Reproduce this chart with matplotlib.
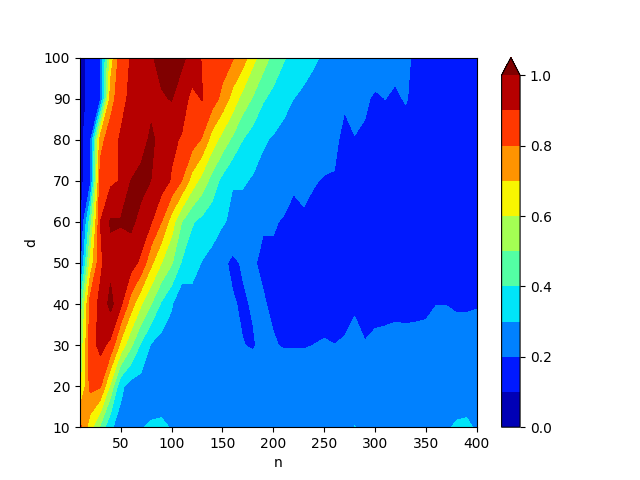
import numpy as np
import matplotlib
matplotlib.use("Agg")
import matplotlib.pyplot as plt

n = list(range(10, 401, 10))
d = [10, 20, 30, 40, 50, 60, 70, 80, 90, 100]
levels = [0, .1, .2, .3, .4, .5, .6, .7, .8, .9, 1.0]

d10 = [.83,.64,.48,.31,.27,.28,.295,.31,.315,.295,.27,.27,.27,.27,.27,.27,.27,.27,.27,.27,
       .27,.27,.27,.27,.27,.27,.27,.302,.27,.27,.27,.27,.27,.27,.27,.27,.29,.31,.315,.29]
d20 = [.56,.83,.81,.575,.32,.26,.26,.25,.25,.25,.25,.25,.25,.25,.25,.25,.25,.27,.26,.25,
       .25,.25,.25,.25,.25,.25,.25,.25,.25,.25,.25,.25,.25,.25,.25,.25,.25,.25,.25,.25]
d30 = [.5,.85,.93,.875,.67,.52,.385,.29,.26,.25,.24,.24,.235,.23,.225,.22,.203,.19,.23,.205,
       .195,.195,.195,.2002,.203,.2003,.204,.223,.202,.21,.213,.219,.216,.219,.2245,.225,.225,.226,.226,.22]
d40 = [.4,.84,.925,1.03,.92,.75,.61,.50,.385,.31,.21,.26,.25,.24,.23,.21,.185,.21,.205,.19,
       .185,.185,.185,.185,.185,.185,.185,.19,.185,.185,.185,.185,.185,.185,.185,.199,.199,.193,.193,.197]
d50 = [.13,.63,.88,.97,.93,.945,.875,.72,.60,.51,.39,.34,.295,.27,.22,.18,.21,.205,.19,.19,
       .17,.17,.17,.17,.17,.16,.16,.17,.16,.16,.16,.16,.16,.16,.16,.17,.17,.17,.17,.17]
d60 = [.07,.45,.9,1.01,1.01,1.02,.97,.905,.80,.65,.5,.41,.37,.34,.31,.28,.26,.25,.205,.205,
       .195,.18,.197,.18,.17,.17,.15,.16,.15,.15,.15,.15,.15,.15,.15,.15,.15,.15,.15,.15]
d70 = [.07,.17,.85,.88,.905,1.001,1.03,.998,.95,.89,.8,.66,.56,.46,.37,.305,.31,.29,.27,.25,
       .23,.21,.205,.204,.195,.195,.16,.16,.16,.155,.155,.15,.15,.15,.15,.15,.15,.15,.15,.15]
d80 = [.07,.17,.76,.86,.91,.93,.96,1.02,.96,.92,.89,.85,.79,.65,.56,.48,.40,.35,.31,.29,
       .27,.26,.25,.24,.23,.215,.18,.197,.19,.18,.18,.17,.17,.16,.16,.16,.16,.15,.15,.15]
d90 = [.03,.15,.19,.75,.87,.92,.95,.97,.99,1.005,.95,.87,.905,.85,.77,.66,.56,.49,.41,.37,
       .33,.30,.28,.27,.26,.24,.21,.225,.21,.19,.2005,.19,.205,.18,.17,.17,.17,.16,.16,.16]
d100 = [.03,.15,.19,.64,.86,.905,.95,.99,1.03,1.05,1.02,.97,.89,.87,.85,.81,.75,.63,.55,.47,
        .41,.37,.34,.31,.29,.28,.27,.26,.25,.24,.23,.22,.21,.19,.18,.18,.17,.17,.16,.16]

z = np.array([d10, d20, d30, d40, d50, d60, d70, d80, d90, d100])

fig, ax = plt.subplots()
cs = ax.contourf(n, d, z, levels=levels, cmap="jet", extend="max")
fig.colorbar(cs, ax=ax)
ax.set_xlabel("n")
ax.set_ylabel("d")
fig.savefig("out.png")
